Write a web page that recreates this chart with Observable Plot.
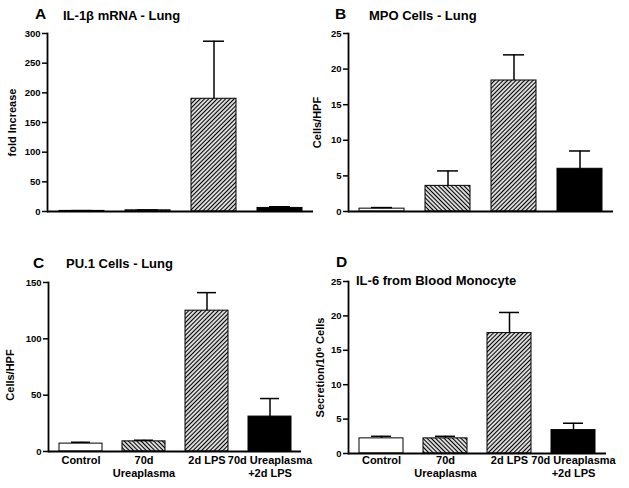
<!DOCTYPE html>
<html>
<head>
<meta charset="utf-8">
<script src="https://cdn.jsdelivr.net/npm/d3@7"></script>
<script src="https://cdn.jsdelivr.net/npm/@observablehq/plot@0.6"></script>
<style>
  html, body { margin: 0; padding: 0; background: #fff; }
  #root { position: relative; width: 629px; height: 488px; overflow: hidden; background: #fff;
          font-family: "Liberation Sans", Arial, Helvetica, sans-serif; font-weight: bold; color: #000; }
  #root svg.panel { position: absolute; }
  .t { position: absolute; line-height: 1; white-space: nowrap; font-weight: bold; }
  .letter { font-size: 15.5px; }
  .title { font-size: 13px; }
</style>
</head>
<body>
<svg width="0" height="0" style="position:absolute">
  <defs>
    <pattern id="hatchFwd" width="3" height="3" patternUnits="userSpaceOnUse" patternTransform="rotate(45)">
      <rect width="3" height="3" fill="#fff"></rect>
      <line x1="1.5" y1="0" x2="1.5" y2="3" stroke="#000" stroke-width="1.3"></line>
    </pattern>
    <pattern id="hatchBack" width="3" height="3" patternUnits="userSpaceOnUse" patternTransform="rotate(-45)">
      <rect width="3" height="3" fill="#fff"></rect>
      <line x1="1.5" y1="0" x2="1.5" y2="3" stroke="#000" stroke-width="1.3"></line>
    </pattern>
  </defs>
</svg>
<div id="root">
  <div class="t letter" style="left:35px; top:6.4px">A</div>
  <div class="t title" style="left:63px; top:8.5px">IL-1β mRNA - Lung</div>
  <div class="t letter" style="left:335px; top:6.4px">B</div>
  <div class="t title" style="left:369px; top:8.5px">MPO Cells - Lung</div>
  <div class="t letter" style="left:33px; top:254.9px">C</div>
  <div class="t title" style="left:66px; top:257px">PU.1 Cells - Lung</div>
  <div class="t letter" style="left:336px; top:253.9px">D</div>
  <div class="t title" style="left:356px; top:274px">IL-6 from Blood Monocyte</div>
</div>
<script>
// ---- data ----
const groups = ["Control", "70d Ureaplasma", "2d LPS", "70d Ureaplasma +2d LPS"];
const tickLabels = ["Control", "70d\nUreaplasma", "2d LPS", "70d Ureaplasma\n+2d LPS"];

const il1bMean = [1, 2, 190, 6];
const il1bErr  = [0.5, 0.5, 97, 2];
const il1bTicks = [0, 50, 100, 150, 200, 250, 300];

const mpoMean = [0.4, 3.6, 18.4, 6.0];
const mpoErr  = [0.15, 2.1, 3.6, 2.5];
const mpoTicks = [0, 5, 10, 15, 20, 25];

const pu1Mean = [7, 9, 125, 31];
const pu1Err  = [1.2, 1, 16, 16];
const pu1Ticks = [0, 50, 100, 150];

const il6Mean = [2.2, 2.2, 17.5, 3.4];
const il6Err  = [0.3, 0.3, 3.0, 1.0];
const il6Ticks = [0, 5, 10, 15, 20, 25];

// ---- drawing ----
const FONT = '"Liberation Sans", Arial, Helvetica, sans-serif';
const root = document.getElementById("root");

function panel(cfg) {
  const data = groups.map((g, i) => ({group: g, mean: cfg.mean[i], upper: cfg.mean[i] + cfg.err[i]}));
  const svg = Plot.plot({
    width: cfg.width, height: cfg.height,
    marginLeft: cfg.ml, marginRight: cfg.mr, marginTop: cfg.mt, marginBottom: cfg.mb,
    style: {fontFamily: FONT, fontWeight: "bold", fontSize: "9px", background: "transparent", overflow: "visible", color: "#000"},
    x: {domain: groups, paddingInner: 0.32, paddingOuter: 0.16, axis: null},
    y: {domain: [0, cfg.ticks[cfg.ticks.length - 1]], axis: null},
    color: {domain: groups, range: ["#fff", "url(#hatchBack)", "url(#hatchFwd)", "#000"]},
    marks: [
      Plot.barY(data, {x: "group", y: "mean", fill: "group", stroke: "#000", strokeWidth: 1}),
      Plot.ruleX(data, {x: "group", y1: "mean", y2: "upper", strokeWidth: 1.5}),
      Plot.tickY(data, {x: "group", y: "upper", insetLeft: 12, insetRight: 12, strokeWidth: 1.5}),
      Plot.axisY({ticks: cfg.ticks, tickSize: 5, tickPadding: 2, fontSize: 9.5, strokeWidth: 1.5, label: null}),
      cfg.showX ? Plot.axisX({tickSize: 0, tickPadding: cfg.xpad, fontSize: 11, lineHeight: 1.12, label: null,
                              tickFormat: g => tickLabels[groups.indexOf(g)]}) : null,
      Plot.frame({anchor: "left", strokeWidth: 1.8}),
      Plot.ruleY([0], {strokeWidth: 1.8}),
      Plot.text([cfg.label], {frameAnchor: "left", textAnchor: "middle", lineAnchor: "middle", rotate: -90,
                              dx: cfg.ldx, dy: cfg.ldy, fontSize: 11, fontWeight: "bold"})
    ]
  });
  svg.classList.add("panel");
  svg.style.left = cfg.left + "px";
  svg.style.top = cfg.top + "px";
  root.appendChild(svg);
}

panel({mean: il1bMean, err: il1bErr, ticks: il1bTicks, label: "fold Increase",
  left: 0, top: 0, width: 320, height: 230, ml: 47, mr: 7, mt: 33, mb: 19, showX: false, ldx: -35, ldy: 0});
panel({mean: mpoMean, err: mpoErr, ticks: mpoTicks, label: "Cells/HPF",
  left: 310, top: 0, width: 319, height: 230, ml: 38, mr: 16, mt: 33, mb: 19, showX: false, ldx: -31, ldy: 0});
panel({mean: pu1Mean, err: pu1Err, ticks: pu1Ticks, label: "Cells/HPF",
  left: 0, top: 230, width: 320, height: 258, ml: 48, mr: 19, mt: 52, mb: 37, showX: true, xpad: 4, ldx: -38, ldy: 8});
panel({mean: il6Mean, err: il6Err, ticks: il6Ticks, label: "Secretion/10⁶ Cells",
  left: 310, top: 230, width: 319, height: 258, ml: 38, mr: 23, mt: 51, mb: 35, showX: true, xpad: 2, ldx: -28, ldy: 0});
</script>
</body>
</html>
